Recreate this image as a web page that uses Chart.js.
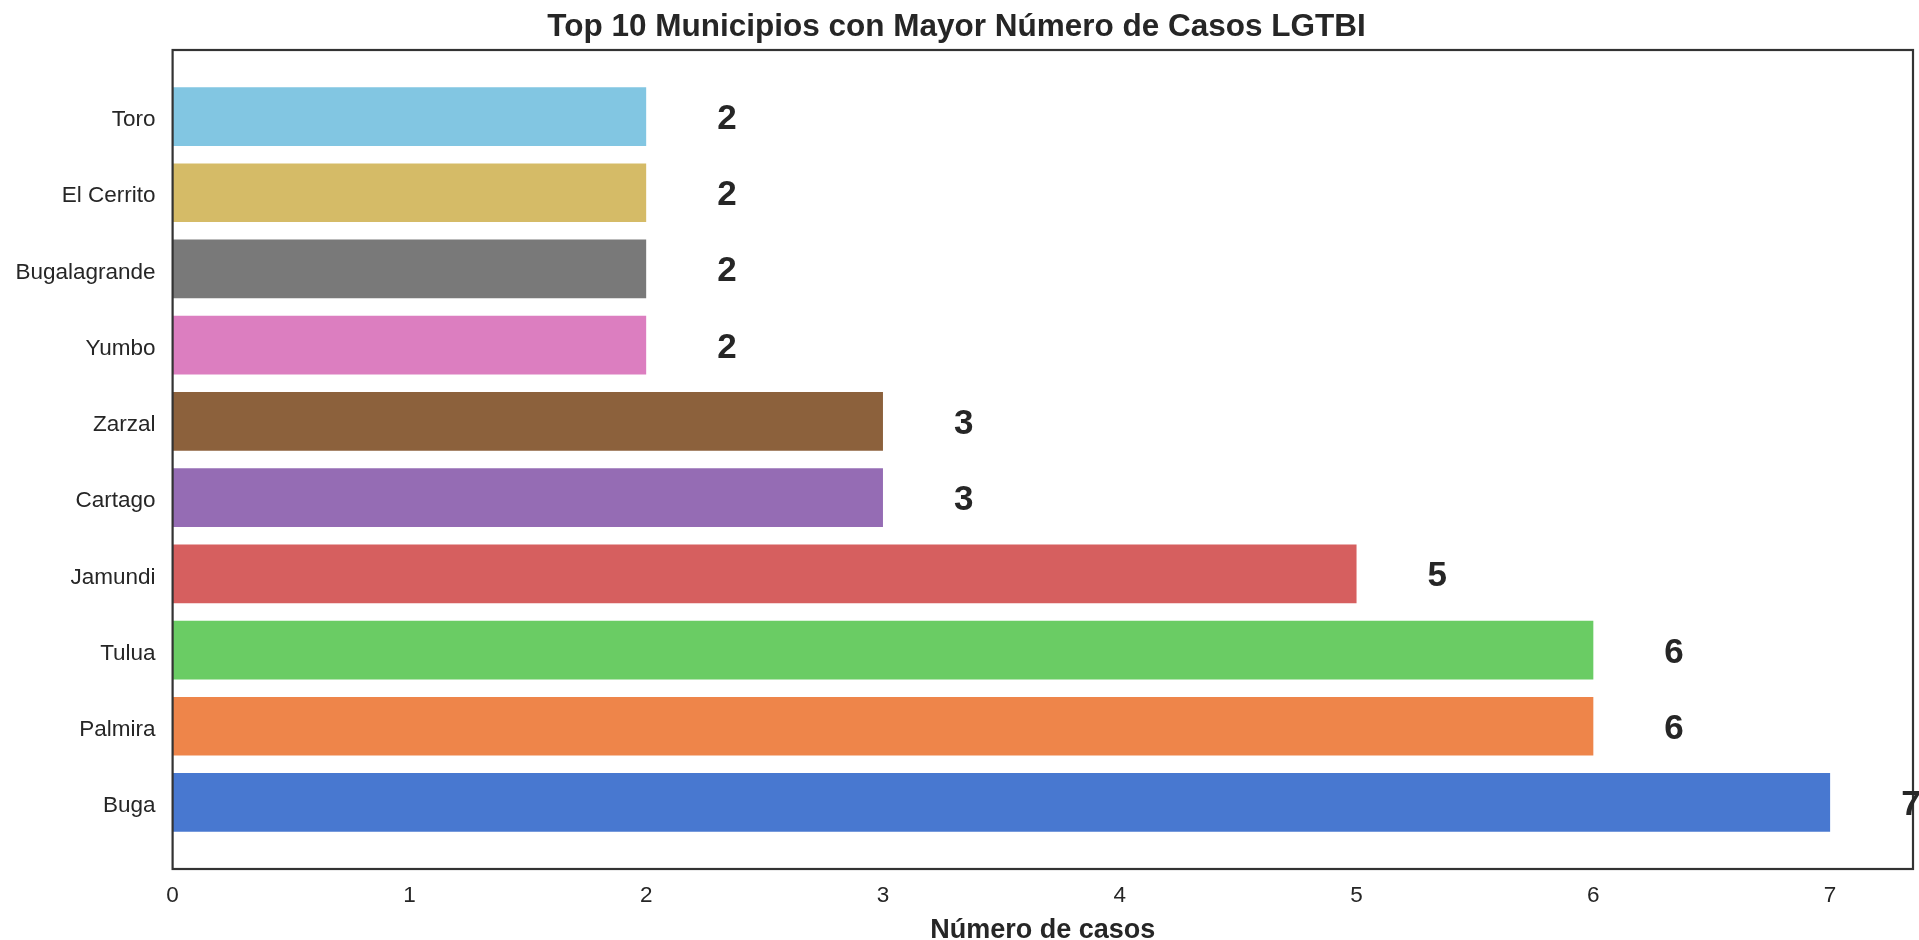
<!DOCTYPE html>
<html>
<head>
<meta charset="utf-8">
<script src="https://cdn.jsdelivr.net/npm/chart.js@4/dist/chart.umd.min.js"></script>
<style>
    html, body { margin: 0; padding: 0; background: #ffffff; }
    #wrap { width: 1919px; height: 940px; position: relative; }
</style>
</head>
<body>
<div id="wrap"><canvas id="casosChart"></canvas></div>
<script>
// Municipios, de abajo (indice 0) hacia arriba
const municipios = ['Buga', 'Palmira', 'Tulua', 'Jamundi', 'Cartago', 'Zarzal', 'Yumbo', 'Bugalagrande', 'El Cerrito', 'Toro'];
const casos = [7, 6, 6, 5, 3, 3, 2, 2, 2, 2];
const colores = ['#4878D0', '#EE854A', '#6ACC64', '#D65F5F', '#956CB4', '#8C613C', '#DC7EC0', '#797979', '#D5BB67', '#82C6E2'];
const xTicks = [0, 1, 2, 3, 4, 5, 6, 7];

const textColor = '#262626';
const fontFamily = '"Liberation Sans", Arial, sans-serif';

// Marco completo alrededor del area del grafico
const framePlugin = {
    id: 'frame',
    afterDraw(chart) {
        const { ctx, chartArea } = chart;
        ctx.save();
        ctx.strokeStyle = '#333333';
        ctx.lineWidth = 2.2;
        ctx.strokeRect(chartArea.left, chartArea.top, chartArea.right - chartArea.left, chartArea.bottom - chartArea.top);
        ctx.restore();
    }
};

// Etiquetas con el valor de cada barra (centradas en la barra)
const valueLabels = {
    id: 'valueLabels',
    afterDraw(chart) {
        const { ctx, scales } = chart;
        const size = 35;
        ctx.save();
        ctx.fillStyle = textColor;
        ctx.font = 'bold ' + size + 'px ' + fontFamily;
        ctx.textAlign = 'left';
        ctx.textBaseline = 'alphabetic';
        casos.forEach((v, i) => {
            ctx.fillText(String(v), scales.x.getPixelForValue(v + 0.3), scales.y.getPixelForValue(i) + size * 0.358);
        });
        ctx.restore();
    }
};

const ctx = document.getElementById('casosChart').getContext('2d');
new Chart(ctx, {
    type: 'bar',
    data: {
        datasets: [{
            data: casos.map((v, i) => ({ x: v, y: i })),
            backgroundColor: colores,
            borderWidth: 0,
            categoryPercentage: 1,
            barPercentage: 0.77
        }]
    },
    options: {
        indexAxis: 'y',
        responsive: true,
        maintainAspectRatio: false,
        animation: false,
        layout: { padding: { left: 0, right: 6, top: 0, bottom: 0 } },
        plugins: {
            legend: { display: false },
            tooltip: { enabled: false },
            title: {
                display: true,
                text: 'Top 10 Municipios con Mayor Número de Casos LGTBI',
                color: textColor,
                font: { family: fontFamily, size: 31.5, weight: 'bold', lineHeight: 1.2 },
                padding: { top: 8.5, bottom: 3.7 }
            }
        },
        scales: {
            x: {
                type: 'linear',
                min: 0,
                max: 7.35,
                afterBuildTicks: (scale) => { scale.ticks = xTicks.map(v => ({ value: v })); },
                afterFit: (scale) => { scale.height = 71; },
                grid: { display: false, drawTicks: false },
                border: { display: false },
                ticks: {
                    color: textColor,
                    padding: 13.5,
                    font: { family: fontFamily, size: 22.5 }
                },
                title: {
                    display: true,
                    text: 'Número de casos',
                    color: textColor,
                    font: { family: fontFamily, size: 27, weight: 'bold', lineHeight: 0.7 },
                    padding: { top: 0, bottom: 0 }
                }
            },
            y: {
                type: 'linear',
                offset: false,
                min: -0.873,
                max: 9.873,
                afterBuildTicks: (scale) => { scale.ticks = municipios.map((m, i) => ({ value: i })); },
                afterFit: (scale) => { scale.width = 172.6; },
                grid: { display: false, drawTicks: false, offset: false },
                border: { display: false },
                ticks: {
                    color: textColor,
                    padding: 17,
                    labelOffset: 3.5,
                    font: { family: fontFamily, size: 22.5 },
                    callback: (value) => municipios[value]
                }
            }
        }
    },
    plugins: [framePlugin, valueLabels]
});
</script>
</body>
</html>
